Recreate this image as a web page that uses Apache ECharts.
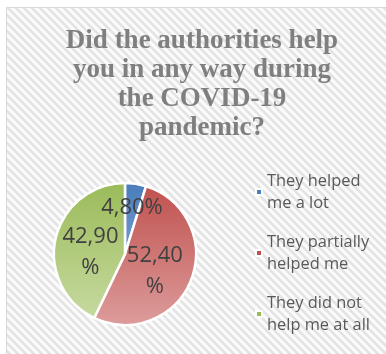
<!DOCTYPE html>
<html>
<head>
<meta charset="utf-8">
<script src="https://cdn.jsdelivr.net/npm/echarts@6/dist/echarts.min.js"></script>
<style>
  html, body { margin: 0; padding: 0; background: #ffffff; }
  #chart { width: 386px; height: 354px; }
</style>
</head>
<body>
<div id="chart"></div>
<script>
// Survey answers and their shares (percent)
const categories = ['They helped\nme a lot', 'They partially\nhelped me', 'They did not\nhelp me at all'];
const shares = [4.8, 52.4, 42.9];
const shareLabels = ['4,80%', '52,40\n%', '42,90\n%'];
const titleText = 'Did the authorities help\nyou in any way during\nthe COVID-19\npandemic?';

// Slice colours: [top, bottom] of a vertical gradient
const sliceColors = [
  ['#4a7dbc', '#9bb8dc'],
  ['#c0504d', '#dc9c9b'],
  ['#9bbb59', '#c8dba3']
];

// Diagonal hatch used as the chart background
function hatch() {
  const c = document.createElement('canvas');
  c.width = 8; c.height = 8;
  const g = c.getContext('2d');
  g.fillStyle = '#fbfbfb';
  g.fillRect(0, 0, 8, 8);
  g.strokeStyle = '#e3e3e3';
  g.lineWidth = 2.6;
  g.beginPath();
  g.moveTo(-2, -2); g.lineTo(10, 10);
  g.moveTo(-10, -2); g.lineTo(2, 10);
  g.moveTo(6, -2); g.lineTo(18, 10);
  g.stroke();
  return c;
}

const cx = 125, cy = 254, r = 71;

const chart = echarts.init(document.getElementById('chart'), null, { renderer: 'canvas' });
chart.setOption({
  backgroundColor: '#ffffff',
  animation: false,
  graphic: [{
    type: 'rect',
    z: -10,
    shape: { x: 6.5, y: 7.5, width: 400, height: 400 },
    style: { fill: { image: hatch(), repeat: 'repeat' }, stroke: '#d9d9d9', lineWidth: 1 }
  }],
  title: {
    text: titleText,
    left: 197,
    textAlign: 'center',
    top: 22,
    textStyle: {
      fontFamily: 'Liberation Serif',
      fontWeight: 'bold',
      fontSize: 27,
      lineHeight: 29,
      color: '#7f7f7f'
    }
  },
  legend: {
    orient: 'vertical',
    left: 255,
    top: 159,
    padding: 0,
    itemWidth: 6,
    itemHeight: 6,
    itemGap: -5,
    icon: 'rect',
    textStyle: {
      fontFamily: 'Open Sans',
      fontSize: 16.4,
      lineHeight: 22,
      color: '#595959',
      padding: [22, 0, 0, 0]
    },
    data: categories
  },
  series: [{
    type: 'pie',
    center: [cx, cy],
    radius: r,
    startAngle: 90,
    clockwise: true,
    label: {
      position: 'inner',
      fontFamily: 'Open Sans',
      fontSize: 22,
      lineHeight: 31,
      color: '#404040',
      formatter: p => shareLabels[p.dataIndex]
    },
    labelLine: { show: false },
    // the thin first slice keeps its label just above the centre
    labelLayout: p => p.dataIndex === 0
      ? { x: cx + 7, y: cy - 46, align: 'center', verticalAlign: 'middle' }
      : {},
    itemStyle: { borderColor: '#ffffff', borderWidth: 2.5 },
    data: categories.map((name, i) => ({
      name: name,
      value: shares[i],
      label: i === 0
        ? { position: 'outside', alignTo: 'none' }
        : { offset: i === 1 ? [-6, 3] : [3, 7] },
      itemStyle: {
        color: new echarts.graphic.LinearGradient(0, cy - r, 0, cy + r, [
          { offset: 0, color: sliceColors[i][0] },
          { offset: 1, color: sliceColors[i][1] }
        ], true)
      }
    }))
  }]
});
</script>
</body>
</html>
